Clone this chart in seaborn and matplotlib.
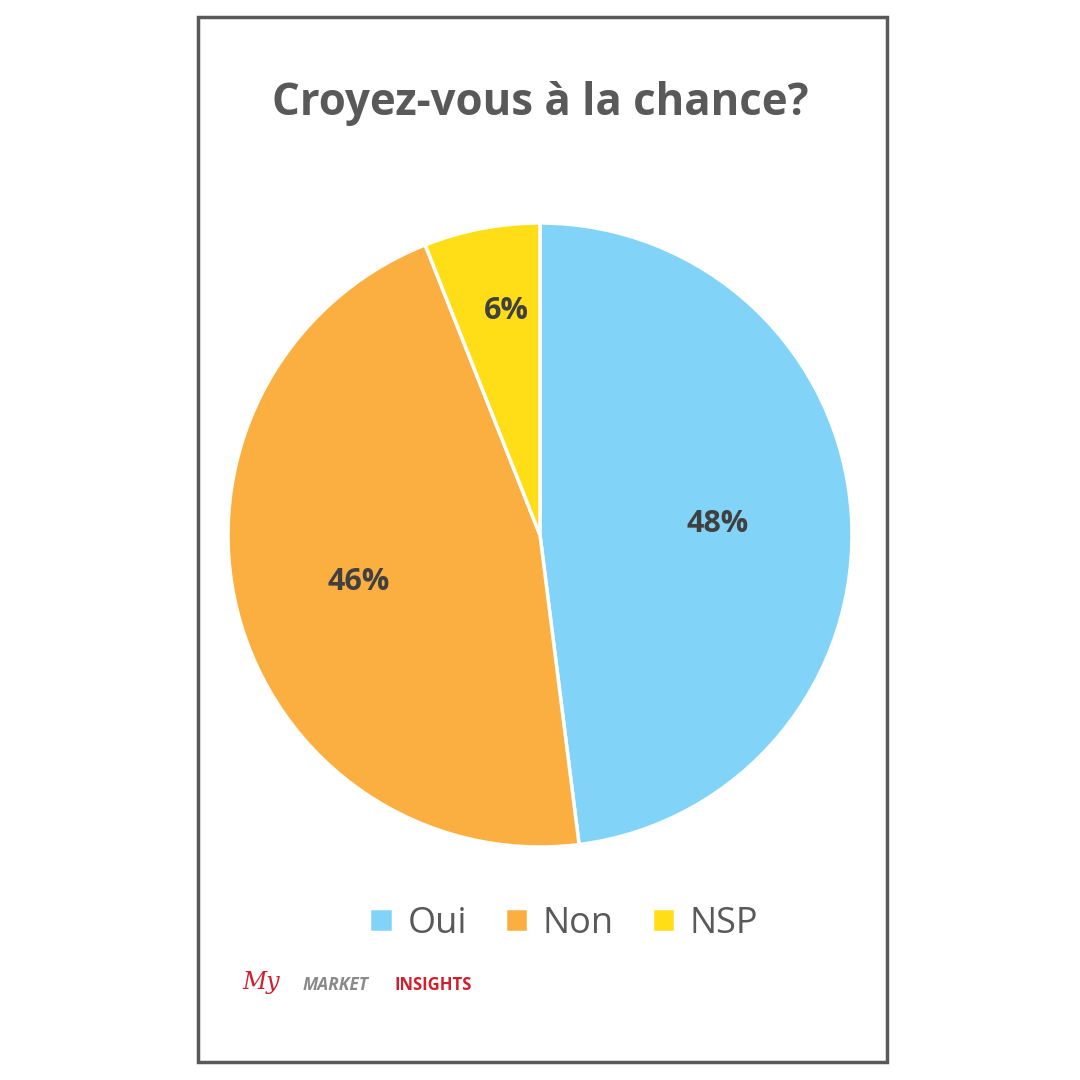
import numpy as np
import matplotlib
matplotlib.use("Agg")
from matplotlib import pyplot as plt
from matplotlib.patches import Rectangle
import seaborn as sns

labels = ["Oui", "Non", "NSP"]
values = [48, 46, 6]
colors = ["#81D4F7", "#FBAF41", "#FFDE17"]
title = "Croyez-vous à la chance?"

sns.set_theme(style="white")
plt.rcParams['font.family'] = ['Open Sans', 'DejaVu Sans']
gray = "#595959"

fig = plt.figure(figsize=(10.8, 10.8), dpi=100)
fig.patch.set_facecolor("white")

# frame
fig.add_artist(Rectangle((198/1080, 1 - 1062/1080), 689/1080, 1045/1080,
                         transform=fig.transFigure, fill=False,
                         edgecolor=gray, linewidth=2.5))

fig.text(0.5, 1 - 103/1080, title, ha="center", va="center",
         fontsize=31.5, fontweight="bold", color=gray)

r = 312
ax = fig.add_axes([(540 - r)/1080, 1 - (535 + r)/1080, 2*r/1080, 2*r/1080])
wedges, texts, autotexts = ax.pie(values, colors=colors, startangle=90, counterclock=False,
                                  autopct="%d%%", pctdistance=0.6,
                                  wedgeprops=dict(edgecolor="white", linewidth=2.5))
# label distance from centre, per slice (Excel-style placement)
label_dist = [0.57, 0.6, 0.73]
for t, w, d in zip(autotexts, wedges, label_dist):
    ang = np.deg2rad((w.theta1 + w.theta2) / 2)
    t.set_position((d * np.cos(ang), d * np.sin(ang)))
    t.set_fontsize(22)
    t.set_fontweight("bold")
    t.set_color("#404040")
autotexts[2].set_x(autotexts[2].get_position()[0] + 0.03)
ax.set_xlim(-1, 1)
ax.set_ylim(-1, 1)
ax.set_aspect("equal")
ax.axis("off")

leg = fig.legend(wedges, labels, loc="center", bbox_to_anchor=(0.522, 1 - 924/1080),
                 ncol=3, frameon=False, fontsize=26, handlelength=0.65, handleheight=0.65,
                 handletextpad=0.4, columnspacing=1.05)
for t in leg.get_texts():
    t.set_color(gray)

# logo
fig.text(242/1080, 1 - 983/1080, "My", fontsize=17, style="italic", color="#D0202E",
         ha="left", va="center", family=["DejaVu Serif"])
fig.text(303/1080, 1 - 985/1080, "MARKET", fontsize=12.5, color="#8a8a8a",
         ha="left", va="center", fontweight="bold", style="italic")
fig.text(394/1080, 1 - 985/1080, "INSIGHTS", fontsize=12, color="#D0202E",
         ha="left", va="center", fontweight="bold")

fig.savefig("out.png", dpi=100, facecolor="white")
